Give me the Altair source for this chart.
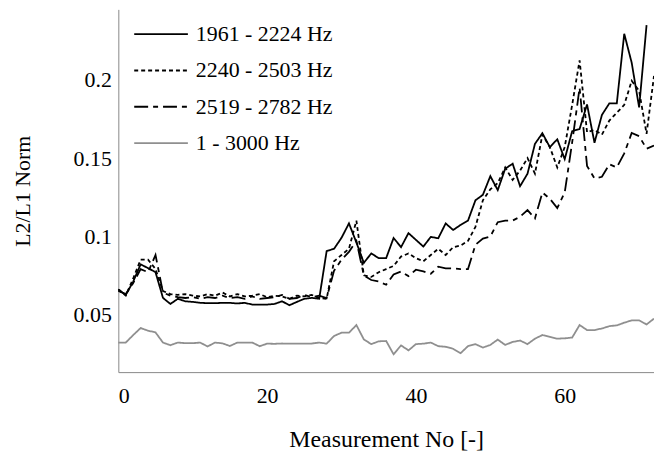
import altair as alt
import pandas as pd

series_names = ["1961 - 2224 Hz", "2240 - 2503 Hz", "2519 - 2782 Hz", "1 - 3000 Hz"]

s1 = [0.066, 0.0625, 0.071, 0.082, 0.0796, 0.077, 0.0606, 0.0567, 0.060, 0.0584,
      0.058, 0.0574, 0.0572, 0.0572, 0.0574, 0.0574, 0.057, 0.0574, 0.0563, 0.0563,
      0.0563, 0.0567, 0.0584, 0.0559, 0.058, 0.060, 0.0606, 0.060, 0.0905, 0.092,
      0.099, 0.1082, 0.096, 0.083, 0.089, 0.086, 0.086, 0.0989, 0.093, 0.102,
      0.0977, 0.0934, 0.0996, 0.0987, 0.1082, 0.104, 0.1072, 0.110, 0.123, 0.1265,
      0.1384, 0.1295, 0.1432, 0.1464, 0.132, 0.140, 0.1591, 0.1659, 0.157, 0.162,
      0.1493, 0.1672, 0.1686, 0.1843, 0.1598, 0.1776, 0.185, 0.185, 0.2295, 0.211,
      0.1824, 0.235]

s2 = [0.066, 0.062, 0.073, 0.085, 0.085, 0.079, 0.065, 0.063, 0.0625, 0.063,
      0.062, 0.0615, 0.063, 0.062, 0.064, 0.0615, 0.063, 0.0615, 0.062, 0.063,
      0.061, 0.062, 0.0615, 0.060, 0.062, 0.0615, 0.0625, 0.0605, 0.060, 0.084,
      0.088, 0.092, 0.110, 0.075, 0.074, 0.077, 0.079, 0.081, 0.087, 0.089,
      0.086, 0.084, 0.088, 0.092, 0.088, 0.093, 0.094, 0.097, 0.106, 0.123,
      0.130, 0.134, 0.144, 0.136, 0.142, 0.150, 0.140, 0.165, 0.157, 0.144,
      0.157, 0.184, 0.2125, 0.1665, 0.168, 0.165, 0.174, 0.179, 0.184, 0.1994,
      0.193, 0.1655, 0.2025]

s3 = [0.065, 0.063, 0.070, 0.079, 0.077, 0.088, 0.064, 0.062, 0.061, 0.0605,
      0.061, 0.060, 0.061, 0.0605, 0.062, 0.0605, 0.061, 0.060, 0.0615, 0.060,
      0.0605, 0.061, 0.0625, 0.060, 0.0605, 0.0625, 0.061, 0.062, 0.0605, 0.078,
      0.085, 0.090, 0.097, 0.075, 0.072, 0.071, 0.069, 0.0755, 0.0775, 0.0745,
      0.0786, 0.0775, 0.076, 0.0805, 0.0795, 0.0795, 0.079, 0.079, 0.0945, 0.0985,
      0.0998, 0.109, 0.110, 0.110, 0.1125, 0.1167, 0.1114, 0.128, 0.124, 0.118,
      0.128, 0.160, 0.195, 0.145, 0.137, 0.138, 0.146, 0.144, 0.153, 0.166,
      0.164, 0.156, 0.158]

s4 = [0.032, 0.032, 0.0368, 0.0413, 0.0396, 0.0385, 0.032, 0.0303, 0.032, 0.0316,
      0.0316, 0.032, 0.0295, 0.032, 0.0315, 0.0298, 0.032, 0.032, 0.032, 0.0297,
      0.0313, 0.0312, 0.0314, 0.0313, 0.0313, 0.0313, 0.0314, 0.032, 0.0313, 0.0362,
      0.0383, 0.0383, 0.0432, 0.034, 0.031, 0.0328, 0.033, 0.0245, 0.0302, 0.027,
      0.031, 0.0313, 0.032, 0.0297, 0.0293, 0.028, 0.0252, 0.0297, 0.031, 0.0288,
      0.0305, 0.0339, 0.0305, 0.0324, 0.0333, 0.031, 0.0345, 0.0368, 0.0356, 0.0345,
      0.0347, 0.0352, 0.0432, 0.040, 0.040, 0.041, 0.0425, 0.043, 0.0447, 0.0462,
      0.0462, 0.0436, 0.0473]

x_ticks = [0, 20, 40, 60]
y_ticks = [0.05, 0.1, 0.15, 0.2]

rows = []
for name, vals in zip(series_names, [s1, s2, s3, s4]):
    for i, v in enumerate(vals):
        rows.append({"n": i, "v": v, "s": name})
df = pd.DataFrame(rows)

FONT = "Liberation Serif"
legend = alt.Legend(title=None)

chart = alt.Chart(df).mark_line(strokeWidth=1.8).encode(
    x=alt.X("n:Q",
            scale=alt.Scale(domain=[0, 72], nice=False, zero=False),
            axis=alt.Axis(values=x_ticks, title="Measurement No [-]",
                          labelPadding=14, titleX=269.5, titleY=68, titleFontSize=24,
                          titleBaseline="middle", titleAlign="center")),
    y=alt.Y("v:Q",
            scale=alt.Scale(domain=[0.0131, 0.2451], nice=False, zero=False),
            axis=alt.Axis(values=y_ticks, format="~g", title="L2/L1 Norm",
                          labelPadding=7, titleX=-96, titleY=182.5, titleFontSize=22,
                          titleAngle=-90, titleBaseline="middle", titleAlign="center")),
    color=alt.Color("s:N",
                    scale=alt.Scale(domain=series_names,
                                    range=["#000000", "#000000", "#000000", "#8f8f8f"]),
                    legend=legend),
    strokeDash=alt.StrokeDash("s:N",
                              scale=alt.Scale(domain=series_names,
                                              range=[[1, 0], [4, 3], [14, 5, 5, 5], [1, 0]]),
                              legend=legend),
).properties(
    width=539, height=365,
    padding={"left": 111, "top": 0, "right": 0, "bottom": 78},
    autosize=alt.AutoSizeParams(type="none"),
).configure_view(stroke=None).configure_axis(
    domainColor="#888888", domainWidth=1, ticks=False, grid=False,
    labelFont=FONT, labelFontSize=22, labelColor="#000000",
    titleFont=FONT, titleFontWeight="normal", titleColor="#000000",
).configure_legend(
    orient="none", legendX=15, legendY=10.5, padding=0,
    symbolType="M-1,0H3", symbolSize=729, symbolStrokeWidth=1.8,
    labelFont=FONT, labelFontSize=22, labelColor="#000000", labelOffset=34,
    rowPadding=10.5, labelLimit=0,
)

chart.save("out.html", embed_options={"renderer": "svg", "actions": False})
